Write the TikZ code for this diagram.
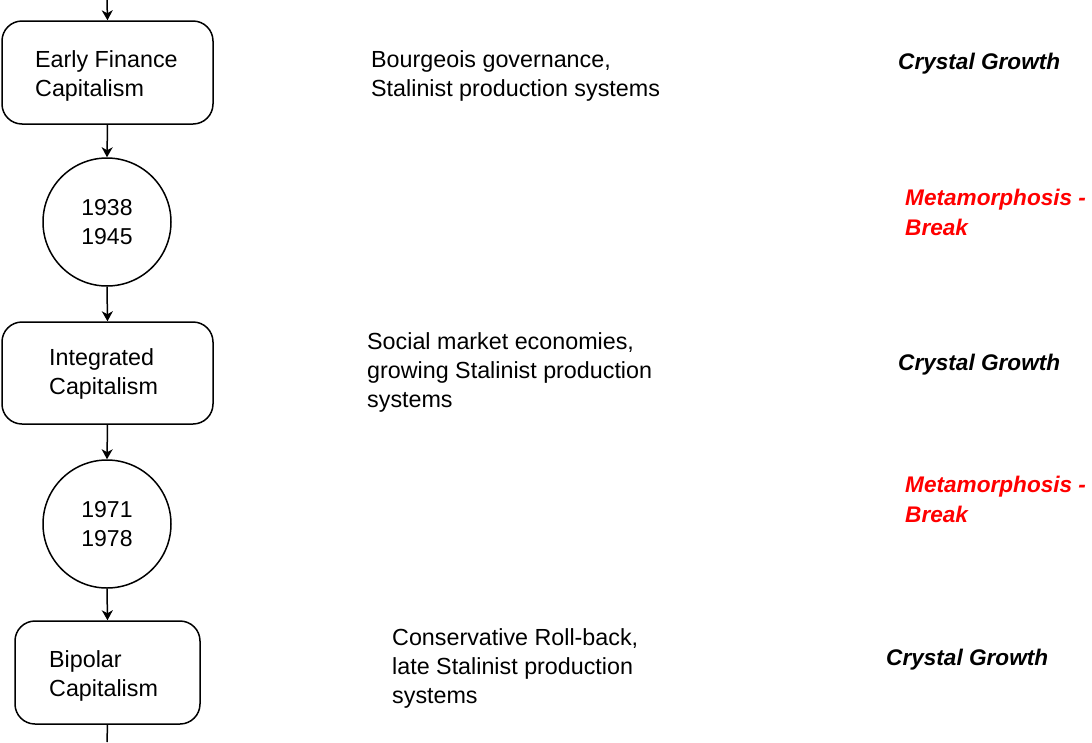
\documentclass[tikz,border=0pt]{standalone}
\usepackage{fontspec}
\setmainfont{Liberation Sans}
\usetikzlibrary{arrows.meta}
\tikzset{
  stagebox/.style={draw, line width=1.5pt, rounded corners=20pt, inner sep=0pt},
  breakcirc/.style={draw, line width=1.5pt, circle, minimum size=128pt, inner sep=0pt, align=center, font=\fontsize{23}{29}\selectfont},
  flow/.style={line width=1.5pt, -{Stealth[length=10pt,width=11pt,inset=3pt]}},
  txt/.style={anchor=base west, inner sep=0pt, align=left, font=\fontsize{23.3}{29}\selectfont},
  crystal/.style={anchor=base west, inner sep=0pt, font=\fontsize{22.6}{29}\selectfont\bfseries\itshape},
  meta/.style={anchor=base west, inner sep=0pt, align=left, text=red, font=\fontsize{22.6}{30}\selectfont\bfseries\itshape}
}
\begin{document}
\begin{tikzpicture}[x=1pt,y=-1pt]
\useasboundingbox (0,0) rectangle (1092,742);
% boxes
\node[stagebox, minimum width=211pt, minimum height=103pt] (b1) at (107.5,72.5) {};
\node[breakcirc] (c1) at (107,222) {1938\\1945};
\node[stagebox, minimum width=211pt, minimum height=102pt] (b2) at (107.5,373) {};
\node[breakcirc] (c2) at (107,524) {1971\\1978};
\node[stagebox, minimum width=185pt, minimum height=103pt] (b3) at (107.5,672.5) {};
\coordinate (top) at (107,0);
\coordinate (bot) at (107,742);
% box texts
\node[txt] (t1) at (35,96) {Early Finance\\Capitalism};
\node[txt] (t2) at (49,394) {Integrated\\Capitalism};
\node[txt] (t3) at (49,696) {Bipolar\\Capitalism};
% connectors
\draw[flow] (top) -- (b1.north);
\draw[flow] (b1.south) -- (c1.north);
\draw[flow] (c1.south) -- (b2.north);
\draw[flow] (b2.south) -- (c2.north);
\draw[flow] (c2.south) -- (b3.north);
\draw[line width=1.5pt] (b3.south) -- (bot);
% middle texts
\node[txt] (m1) at (371,96) {Bourgeois governance,\\Stalinist production systems};
\node[txt] (m2) at (367,407) {Social market economies,\\growing Stalinist production\\systems};
\node[txt] (m3) at (392,703) {Conservative Roll-back,\\late Stalinist production\\systems};
% right labels
\node[crystal] (r1) at (898,69) {Crystal Growth};
\node[meta] (r2) at (905,235) {Metamorphosis -\\Break};
\node[crystal] (r3) at (898,370) {Crystal Growth};
\node[meta] (r4) at (905,522) {Metamorphosis -\\Break};
\node[crystal] (r5) at (886,665) {Crystal Growth};
\end{tikzpicture}
\end{document}
